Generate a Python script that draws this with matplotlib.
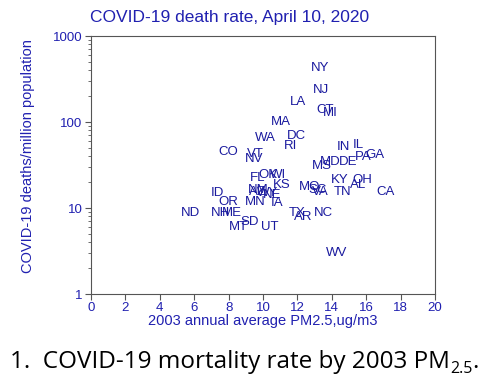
import numpy as np
import matplotlib.pyplot as plt
from matplotlib.ticker import FixedLocator, NullFormatter

plt.rcParams['font.family'] = ['Liberation Sans', 'DejaVu Sans']

# state labels, PM2.5 (ug/m3) and deaths per million
states = ['NY', 'NJ', 'LA', 'CT', 'MI', 'MA', 'WA', 'DC', 'RI', 'CO',
          'VT', 'NV', 'IN', 'IL', 'PA', 'GA', 'MD', 'DE', 'MS', 'OK',
          'WI', 'FL', 'KS', 'KY', 'OH', 'AL', 'MO', 'SC', 'VA', 'TN',
          'CA', 'AZ', 'NM', 'NE', 'WY', 'ID', 'OR', 'MN', 'IA', 'ND',
          'NH', 'ME', 'SD', 'MT', 'UT', 'TX', 'AR', 'NC', 'WV']
pm25 = [13.31, 13.35, 12.03, 13.6, 13.94, 11.05, 10.12, 11.96, 11.61, 7.98,
        9.53, 9.48, 14.65, 15.52, 15.81, 16.51, 13.9, 14.94, 13.43, 10.29,
        10.87, 9.71, 11.1, 14.48, 15.76, 15.52, 12.73, 13.2, 13.31, 14.65,
        17.15, 9.65, 9.71, 10.52, 10.29, 7.38, 7.97, 9.53, 10.81, 5.76,
        7.54, 8.18, 9.24, 8.55, 10.41, 11.96, 12.33, 13.49, 14.28]
deaths = [425, 236, 172, 138, 128, 101, 64.6, 68.7, 52.6, 44.4,
          42.1, 36.8, 51.2, 54.0, 39.2, 41.3, 34.3, 34.3, 30.8, 24.2,
          24.2, 22.3, 18.5, 21.2, 21.2, 18.5, 17.5, 16.2, 15.3, 15.3,
          15.3, 15.3, 16.2, 14.2, 14.9, 14.9, 11.7, 11.7, 11.4, 8.75,
          8.75, 8.75, 6.93, 6.06, 6.06, 8.67, 7.93, 8.82, 2.97]

blue = '#2020b0'
navy = '#1a1a9e'
grey = '#555555'

fig = plt.figure(figsize=(5.0, 3.86), dpi=100)
ax = fig.add_axes([0.182, 0.2383, 0.688, 0.6684])

ax.set_yscale('log')
ax.set_xlim(0, 20)
ax.set_ylim(1, 1000)

for s, xv, yv in zip(states, pm25, deaths):
    ax.text(xv, yv, s, color=navy, fontsize=9.5, ha='center', va='center')

for sp in ax.spines.values():
    sp.set_color(grey)
    sp.set_linewidth(0.8)

ax.set_xticks(np.arange(0, 21, 2))
ax.yaxis.set_major_locator(FixedLocator([1, 10, 100, 1000]))
ax.set_yticklabels(['1', '10', '100', '1000'])
ax.yaxis.set_minor_locator(FixedLocator([m * 10**e for e in range(3) for m in range(2, 10)]))
ax.yaxis.set_minor_formatter(NullFormatter())
ax.tick_params(axis='both', which='major', direction='out', length=4, width=0.8,
               color=grey, labelcolor=blue, labelsize=9.5, pad=2)
ax.tick_params(axis='y', which='minor', direction='out', length=2.5, width=0.6, color=grey)

ax.set_xlabel('2003 annual average PM2.5,ug/m3', color=blue, fontsize=10.5)
ax.set_ylabel('COVID-19 deaths/million population', color=blue, fontsize=10.5)
ax.xaxis.set_label_coords(0.5, -0.078)
ax.yaxis.set_label_coords(-0.163, 0.535)

fig.text(0.18, 0.955, 'COVID-19 death rate, April 10, 2020', color=blue,
         fontsize=12.5, ha='left', va='center')

# caption with subscript
capfont = ['Open Sans', 'DejaVu Sans']
ybase = 0.047
cap = fig.text(0.02, ybase, '1.  COVID-19 mortality rate by 2003 PM', color='black',
               fontsize=17.5, family=capfont, ha='left', va='baseline')
fig.canvas.draw()
x1 = cap.get_window_extent().x1 / fig.bbox.width
sub = fig.text(x1, ybase - 0.014, '2.5', color='black', fontsize=11.5,
               family=capfont, ha='left', va='baseline')
fig.canvas.draw()
x2 = sub.get_window_extent().x1 / fig.bbox.width
fig.text(x2, ybase, '.', color='black', fontsize=17.5,
         family=capfont, ha='left', va='baseline')

plt.savefig('out.png', dpi=100)
